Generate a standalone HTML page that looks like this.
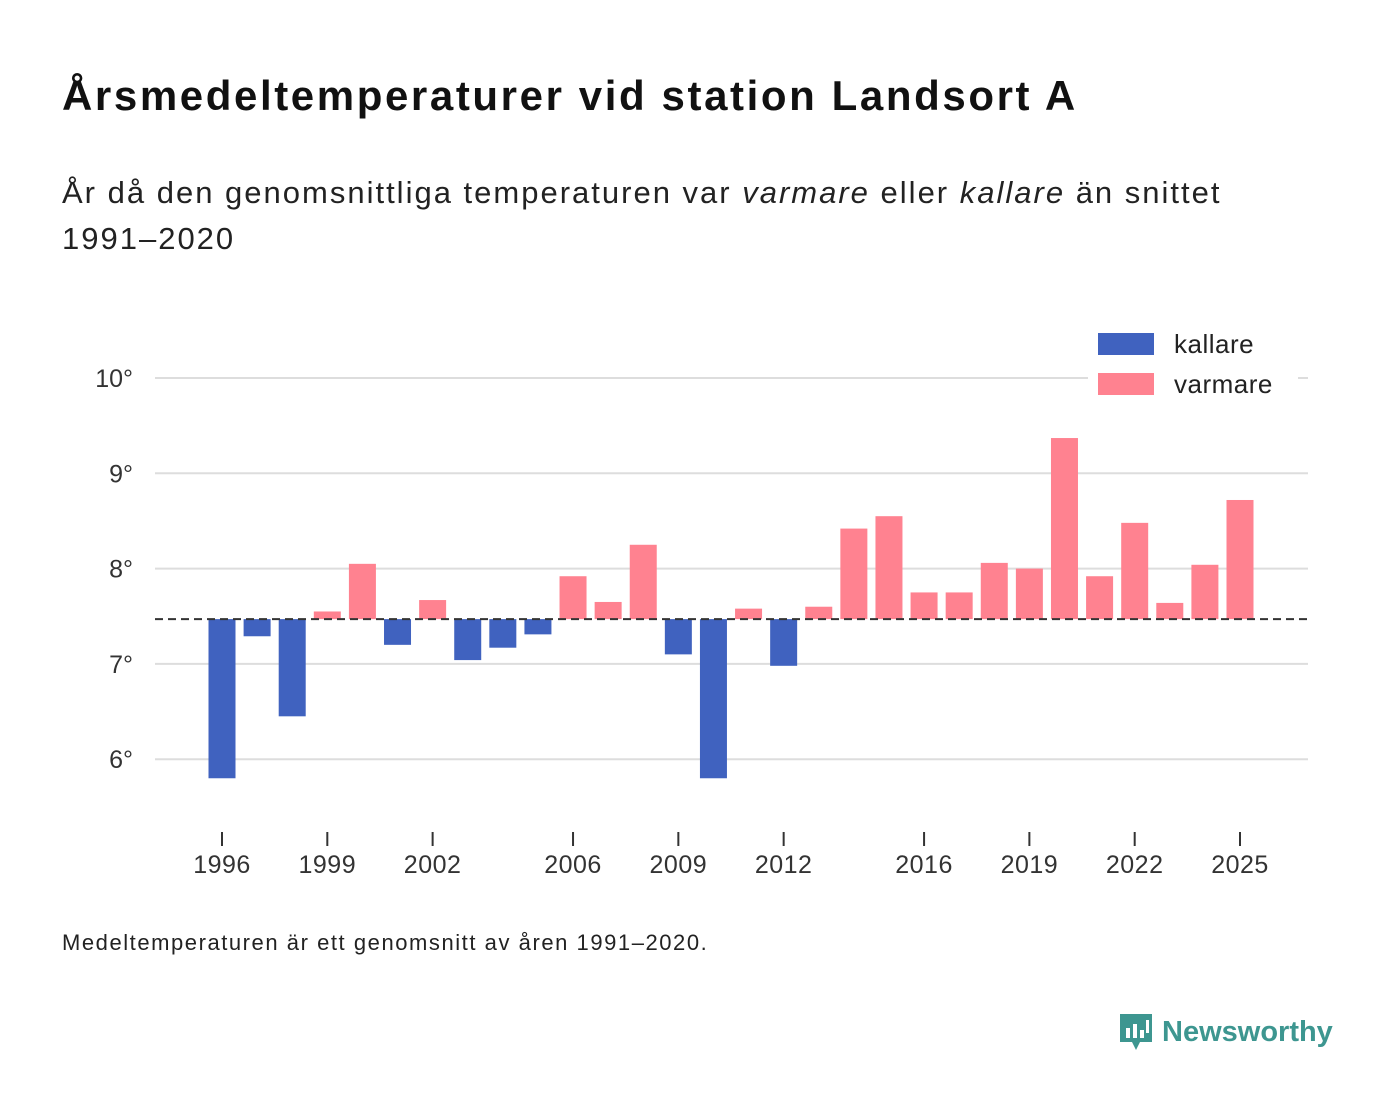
<!DOCTYPE html>
<html><head><meta charset="utf-8">
<style>
body{margin:0;background:#fff;font-family:"Liberation Sans",sans-serif;}
#wrap{position:relative;width:1400px;height:1116px;overflow:hidden;}
h1{position:absolute;left:62px;top:72px;margin:0;font-size:42px;font-weight:bold;color:#111;letter-spacing:2.6px;}
.sub{position:absolute;left:62px;top:170px;margin:0;font-size:31px;line-height:46px;color:#222;width:1320px;letter-spacing:2px;}
.foot{position:absolute;left:62px;top:930px;font-size:22px;color:#222;letter-spacing:1.55px;}
.logo{position:absolute;left:1118px;top:1010px;display:flex;align-items:center;}
.logo span{font-size:29px;font-weight:bold;color:#3d9690;margin-left:8px;}
</style></head><body>
<div id="wrap">
<h1>Årsmedeltemperaturer vid station Landsort A</h1>
<p class="sub">År då den genomsnittliga temperaturen var <i>varmare</i> eller <i>kallare</i> än snittet<br>1991–2020</p>
<svg id="chart" width="1400" height="1116" style="position:absolute;left:0;top:0"></svg>
<div class="foot">Medeltemperaturen är ett genomsnitt av åren 1991–2020.</div>
<div class="logo">
<svg width="36" height="44" viewBox="0 0 36 44"><path d="M2 4h32v28H22l-4 8-4-8H2z" fill="#3d9690"/><rect x="8" y="18" width="4" height="10" fill="#fff"/><rect x="15" y="14" width="4" height="14" fill="#fff"/><rect x="22" y="20" width="4" height="8" fill="#fff"/><rect x="28" y="10" width="3" height="13" fill="#fff"/></svg>
<span>Newsworthy</span></div>
</div>
<script>
const years=[1996,1997,1998,1999,2000,2001,2002,2003,2004,2005,2006,2007,2008,2009,2010,2011,2012,2013,2014,2015,2016,2017,2018,2019,2020,2021,2022,2023,2024,2025];
const temps=[5.80,7.29,6.45,7.55,8.05,7.20,7.67,7.04,7.17,7.31,7.92,7.65,8.25,7.10,5.80,7.58,6.98,7.60,8.42,8.55,7.75,7.75,8.06,8.00,9.37,7.92,8.48,7.64,8.04,8.72];
const baseline=7.47;
const yTicks=[6,7,8,9,10];
const xTicks=[1996,1999,2002,2006,2009,2012,2016,2019,2022,2025];
const svg=document.getElementById('chart');
const NS='http://www.w3.org/2000/svg';
const y=v=>378+(10-v)*95.3;
const x=yr=>222+(yr-1996)*(1240-222)/29;
function mk(t,a){const e=document.createElementNS(NS,t);for(const k in a)e.setAttribute(k,a[k]);svg.appendChild(e);return e;}
yTicks.forEach(v=>{
 const l=mk('line',{x1:155,x2:1308,y1:y(v),y2:y(v),stroke:'#ddd','stroke-width':2});
 
 
 const t=mk('text',{x:133,y:y(v)+9,'text-anchor':'end','font-size':25,fill:'#333','font-family':'Liberation Sans, sans-serif'});
 t.textContent=v+'°';
 
 
});
years.forEach((yr,i)=>{
 const v=temps[i];const top=y(Math.max(v,baseline)),bot=y(Math.min(v,baseline));
 const r=mk('rect',{x:x(yr)-13.5,y:top,width:27,height:Math.max(bot-top,0.5),fill:v<baseline?'#4062bf':'#ff8290'});
 
 
});
const bl=mk('line',{x1:155,x2:1308,y1:y(baseline),y2:y(baseline),stroke:'#333','stroke-width':2,'stroke-dasharray':'8,5'});


xTicks.forEach(yr=>{
 const l=mk('line',{x1:x(yr),x2:x(yr),y1:832,y2:846,stroke:'#333','stroke-width':2});
 
 
 const t=mk('text',{x:x(yr),y:873,'text-anchor':'middle','font-size':25,fill:'#333','font-family':'Liberation Sans, sans-serif','letter-spacing':'0.5'});
 t.textContent=yr;
 
 
});
const lg=[['kallare','#4062bf',333],['varmare','#ff8290',373]];
lg.forEach(([n,c,yy])=>{
 const bg=mk('rect',{x:1088,y:yy-8,width:210,height:40,fill:'#fff'});
 
 
 const r=mk('rect',{x:1098,y:yy,width:56,height:22,fill:c});
 
 
 const t=mk('text',{x:1174,y:yy+20,'font-size':26,fill:'#222','font-family':'Liberation Sans, sans-serif','letter-spacing':'0.5'});
 t.textContent=n;
 
 
});
</script>
</body></html>
